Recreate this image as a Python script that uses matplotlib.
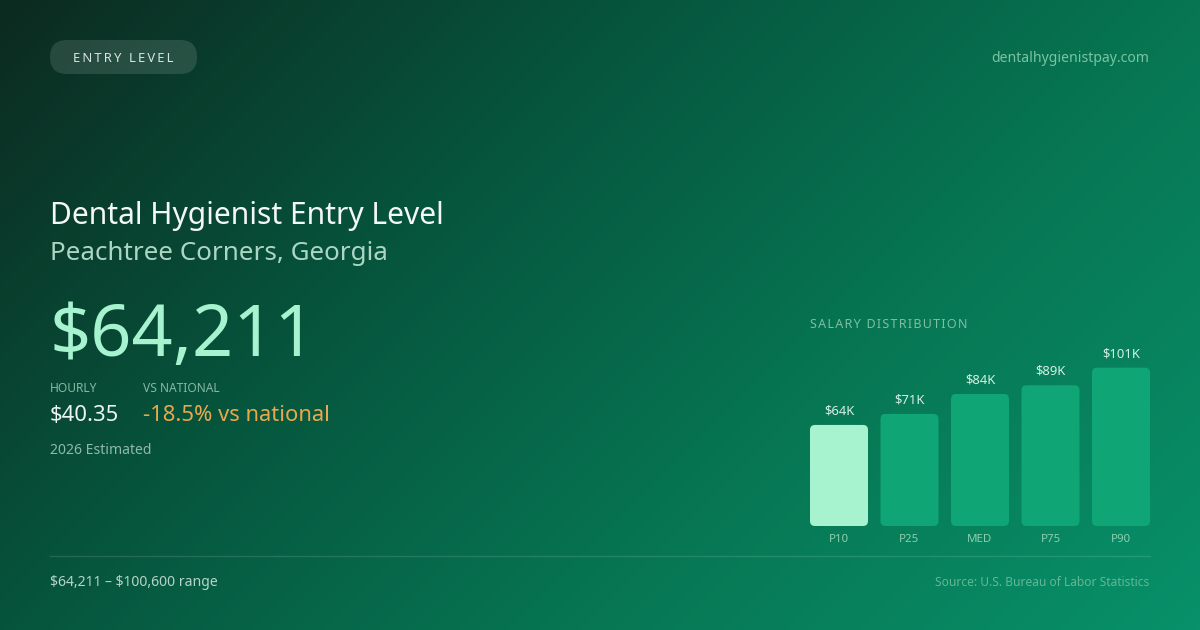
import numpy as np
import matplotlib
matplotlib.use("Agg")
import matplotlib.pyplot as plt
from matplotlib.patches import FancyBboxPatch
from matplotlib.colors import LinearSegmentedColormap

# ---- data ----
categories = ["P10", "P25", "MED", "P75", "P90"]
salaries = [64211, 71200, 83900, 89400, 100600]
bar_labels = ["$64K", "$71K", "$84K", "$89K", "$101K"]
badge_text = "ENTRY LEVEL"
site_text = "dentalhygienistpay.com"
title_text = "Dental Hygienist Entry Level"
subtitle_text = "Peachtree Corners, Georgia"
headline_value = "$64,211"
hourly_label = "HOURLY"
hourly_value = "$40.35"
vs_label = "VS NATIONAL"
vs_value = "-18.5% vs national"
estimate_text = "2026 Estimated"
range_text = "$64,211 \u2013 $100,600 range"
source_text = "Source: U.S. Bureau of Labor Statistics"
chart_title = "SALARY DISTRIBUTION"

W, H = 1200, 630
plt.rcParams['font.family'] = ['Noto Sans', 'DejaVu Sans']
plt.rcParams['text.parse_math'] = False

fig = plt.figure(figsize=(W / 100, H / 100), dpi=100)

# background axes in pixel coordinates
bg = fig.add_axes([0, 0, 1, 1])
bg.set_xlim(0, W)
bg.set_ylim(H, 0)
bg.axis('off')

yy, xx = np.mgrid[0:H, 0:W]
c = 0.7071
L = W * c + H * c
t = ((xx - W / 2) * c + (yy - H / 2) * c) / L + 0.5
cmap = LinearSegmentedColormap.from_list(
    "bg", [(0.0, "#0c2a20"), (0.35, "#06553d"), (0.65, "#077552"), (1.0, "#08916a")])
bg.imshow(t, cmap=cmap, extent=(0, W, H, 0), aspect='auto', zorder=0, vmin=0, vmax=1)


def fs(p):
    return p * 0.72


def spaced(s, sep="\u200a"):
    return sep.join(s)


# badge pill
pill = FancyBboxPatch((50, 40), 147, 34, boxstyle="round,pad=0,rounding_size=17",
                      facecolor=(1, 1, 1, 0.12), edgecolor='none', zorder=2)
bg.add_patch(pill)
bg.text(123.5, 58, spaced(badge_text, "\u2009"), ha='center', va='center', fontsize=fs(13),
        color='#d6e6df', zorder=3)

bg.text(1149, 58, site_text, ha='right', va='center', fontsize=fs(14), color='#79c4a3', zorder=3)

bg.text(50, 224, title_text, ha='left', va='baseline', fontsize=fs(30), color='#f3f7f5', zorder=3)
bg.text(50, 260, subtitle_text, ha='left', va='baseline', fontsize=fs(26), color='#acd6c4', zorder=3)
bg.text(49, 356, headline_value, ha='left', va='baseline', fontsize=fs(72), color='#a7f3d0', zorder=3)

bg.text(50, 392, hourly_label, ha='left', va='baseline', fontsize=fs(12), color='#86b8a2', zorder=3)
bg.text(143, 392, vs_label, ha='left', va='baseline', fontsize=fs(12), color='#86b8a2', zorder=3)
bg.text(50, 421, hourly_value, ha='left', va='baseline', fontsize=fs(22), color='#eef5f1', zorder=3)
bg.text(143, 421, vs_value, ha='left', va='baseline', fontsize=fs(22), color='#e9a84e', zorder=3)
bg.text(50, 454, estimate_text, ha='left', va='baseline', fontsize=fs(14), color='#8fb9a7', zorder=3)

bg.plot([50, 1150], [556, 556], color=(1, 1, 1, 0.12), lw=1, zorder=3)
bg.text(50, 586, range_text, ha='left', va='baseline', fontsize=fs(14), color='#b6d4c7', zorder=3)
bg.text(1149, 586, source_text, ha='right', va='baseline', fontsize=fs(12), color='#62b893', zorder=3)

bg.text(810, 325, spaced(chart_title), ha='left', va='center', fontsize=fs(12.5),
        color='#7cc0a2', zorder=3)

# bar chart axes
x_left, x_right = 810, 1150
y_bottom, y_top = 526, 340
ax = fig.add_axes([x_left / W, 1 - y_bottom / H, (x_right - x_left) / W, (y_bottom - y_top) / H])
ax.patch.set_alpha(0)
ax.axis('off')
n = len(categories)
unit_px = (x_right - x_left) / (n - 1 + 58 / 70.5)
bar_w = 58 / unit_px
ax.set_xlim(-bar_w / 2, n - 1 + bar_w / 2)
px_per_dollar = 1.574 / 1000
ax.set_ylim(0, (y_bottom - y_top) / px_per_dollar)

bars = ax.bar(range(n), salaries, width=bar_w)
x_per_px = 1 / unit_px
y_per_px = 1 / px_per_dollar
radius_px = 5
for i, b in enumerate(bars):
    b.set_visible(False)
    color = '#a7f3d0' if i == 0 else '#10a574'
    rp = FancyBboxPatch((b.get_x(), b.get_y()), b.get_width(), b.get_height(),
                        boxstyle=f"round,pad=0,rounding_size={radius_px * x_per_px}",
                        mutation_aspect=y_per_px / x_per_px,
                        facecolor=color, edgecolor='none', zorder=2)
    ax.add_patch(rp)
    ax.annotate(bar_labels[i], (i, salaries[i]), xytext=(0, 14 * 0.72), textcoords='offset points',
                ha='center', va='center', fontsize=fs(13), color='#d4efe3', annotation_clip=False)
    ax.annotate(categories[i], (i, 0), xytext=(0, -13 * 0.72), textcoords='offset points',
                ha='center', va='center', fontsize=fs(11.5), color='#8ccfb0', annotation_clip=False)

fig.savefig("out.png", dpi=100)
